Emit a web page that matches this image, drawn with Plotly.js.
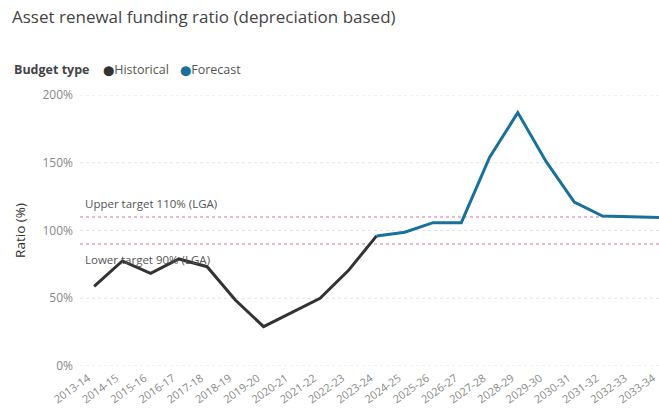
<!DOCTYPE html>
<html>
<head>
<meta charset="utf-8">
<script src="https://cdn.plot.ly/plotly-3.0.1.min.js"></script>
<style>
html,body{margin:0;padding:0;background:#fff;}
#chart{width:659px;height:410px;}
</style>
</head>
<body>
<div id="chart"></div>
<script>
const years = ["2013-14","2014-15","2015-16","2016-17","2017-18","2018-19","2019-20","2020-21","2021-22","2022-23","2023-24","2024-25","2025-26","2026-27","2027-28","2028-29","2029-30","2030-31","2031-32","2032-33","2033-34"];
const histYears = years.slice(0, 11);
const histValues = [58.8, 77.5, 68.4, 79, 73.3, 48.7, 29, 39.6, 50, 70.4, 96];
const fcYears = years.slice(10);
const fcValues = [96, 98.7, 105.8, 105.8, 154, 187, 151, 121, 110.7, 110, 109.6];
const upperTarget = 110;
const lowerTarget = 90;
const yTicks = [0, 50, 100, 150, 200];
const yTickText = ["0%", "50%", "100%", "150%", "200%"];

const font = "Open Sans, Noto Sans, sans-serif";
const PL = 80, PW = 579, PT = 95, PH = 271;
const px = x => (x - PL) / PW;
const py = y => 1 + (PT - y) / PH;

const traces = [
  {x: histYears, y: histValues, type: "scatter", mode: "lines", name: "Historical",
   line: {color: "#333333", width: 3}, cliponaxis: false},
  {x: fcYears, y: fcValues, type: "scatter", mode: "lines", name: "Forecast",
   line: {color: "#19709a", width: 3}, cliponaxis: false}
];

const layout = {
  width: 659, height: 410,
  margin: {l: PL, r: 0, t: PT, b: 44},
  paper_bgcolor: "#fff", plot_bgcolor: "#fff",
  font: {family: font, color: "#666"},
  showlegend: false,
  title: {text: "Asset renewal funding ratio (depreciation based)", x: 12/659, xanchor: "left", y: 1 - 17/410, yanchor: "middle",
          font: {family: font, size: 17, color: "#444"}},
  xaxis: {type: "category", categoryorder: "array", categoryarray: years, range: [-0.5, 20],
          showgrid: false, zeroline: false, showline: false, ticks: "",
          tickangle: -35, tickfont: {size: 11, color: "#888"}, automargin: false,
          ticklabelshift: -6, ticklabelstandoff: 3},
  yaxis: {range: [0, 200], tickvals: yTicks, ticktext: yTickText, showgrid: false, zeroline: false,
          tickfont: {size: 12, color: "#888"}, ticks: "", automargin: false, ticklabelstandoff: 6,
          title: {text: "Ratio (%)", font: {size: 13.5, color: "#333"}, standoff: 13}},
  shapes: [
    ...yTicks.map(v => ({type: "line", xref: "paper", yref: "y", x0: 0, x1: 1, y0: v, y1: v,
       line: {color: "#e2e2e2", width: 1, dash: "dot"}, layer: "below"})),
    {type: "line", xref: "paper", yref: "y", x0: 0, x1: 1, y0: upperTarget, y1: upperTarget,
     line: {color: "#e7a4bd", width: 1.5, dash: "dot"}, layer: "below"},
    {type: "line", xref: "paper", yref: "y", x0: 0, x1: 1, y0: lowerTarget, y1: lowerTarget,
     line: {color: "#e7a4bd", width: 1.5, dash: "dot"}, layer: "below"}
  ],
  annotations: [
    {xref: "paper", yref: "y", x: 0.005, y: upperTarget, yshift: 4, xanchor: "left", yanchor: "bottom",
     text: "Upper target 110% (LGA)", showarrow: false, font: {size: 11.5, color: "#555"}},
    {xref: "paper", yref: "y", x: 0.005, y: lowerTarget, yshift: -6, xanchor: "left", yanchor: "top",
     text: "Lower target 90% (LGA)", showarrow: false, font: {size: 11.5, color: "#555"}},
    {xref: "paper", yref: "paper", x: px(12), y: py(70), xanchor: "left", yanchor: "middle",
     text: "<b>Budget type</b>", showarrow: false, font: {size: 12.5, color: "#444"}},
    {xref: "paper", yref: "paper", x: px(101), y: py(70), xanchor: "left", yanchor: "middle",
     text: "<span style='color:#333333;font-family:DejaVu Sans;font-size:10px'>⬤</span>Historical", showarrow: false, font: {size: 12.5, color: "#555"}},
    {xref: "paper", yref: "paper", x: px(178), y: py(70), xanchor: "left", yanchor: "middle",
     text: "<span style='color:#19709a;font-family:DejaVu Sans;font-size:10px'>⬤</span>Forecast", showarrow: false, font: {size: 12.5, color: "#555"}}
  ]
};

Plotly.newPlot("chart", traces, layout, {displayModeBar: false, staticPlot: true});
</script>
</body>
</html>
